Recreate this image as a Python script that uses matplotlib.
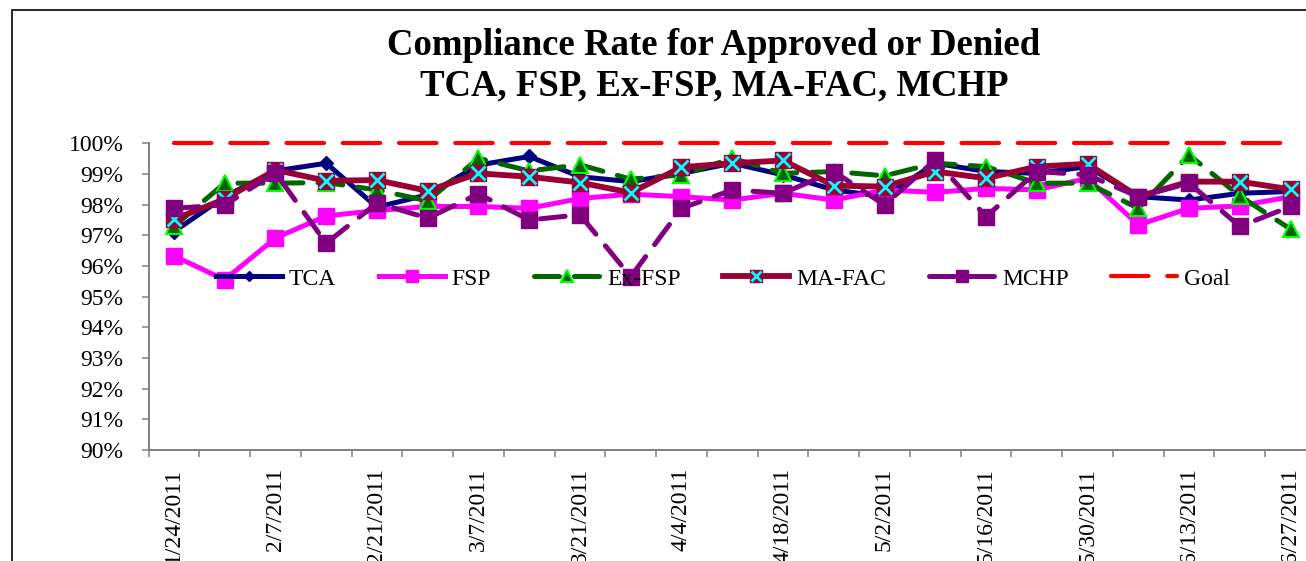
import matplotlib
matplotlib.use("Agg")
import matplotlib.pyplot as plt
import numpy as np
from matplotlib.patches import Rectangle
from matplotlib.legend_handler import HandlerTuple

plt.rcParams['font.family'] = ['Liberation Serif', 'DejaVu Serif']

# Weekly dates (x categories)
dates = ['1/24/2011', '1/31/2011', '2/7/2011', '2/14/2011', '2/21/2011', '2/28/2011',
         '3/7/2011', '3/14/2011', '3/21/2011', '3/28/2011', '4/4/2011', '4/11/2011',
         '4/18/2011', '4/25/2011', '5/2/2011', '5/9/2011', '5/16/2011', '5/23/2011',
         '5/30/2011', '6/6/2011', '6/13/2011', '6/20/2011', '6/27/2011']

# Compliance rates (%)
tca = [97.12, 98.26, 99.10, 99.35, 97.92, 98.32, 99.29, 99.57, 98.91, 98.75, 99.02, 99.35,
       98.97, 98.48, 98.26, 99.35, 99.08, 99.02, 99.24, 98.26, 98.15, 98.37, 98.43]
fsp = [96.33, 95.55, 96.91, 97.63, 97.81, 97.94, 97.94, 97.88, 98.20, 98.34, 98.26, 98.15,
       98.37, 98.15, 98.48, 98.40, 98.53, 98.48, 98.86, 97.34, 97.88, 97.96, 98.26]
ex_fsp = [97.29, 98.70, 98.70, 98.72, 98.48, 98.12, 99.51, 99.10, 99.30, 98.83, 98.97, 99.51,
          99.02, 99.08, 98.94, 99.35, 99.24, 98.70, 98.70, 97.88, 99.62, 98.28, 97.20]
ma_fac = [97.52, 98.18, 99.13, 98.78, 98.80, 98.45, 99.02, 98.91, 98.72, 98.39, 99.22, 99.35,
          99.44, 98.62, 98.59, 99.08, 98.86, 99.24, 99.33, 98.26, 98.75, 98.75, 98.50]
mchp = [97.88, 97.99, 99.04, 96.74, 98.05, 97.56, 98.35, 97.50, 97.67, 95.65, 97.88, 98.48,
        98.37, 99.08, 97.99, 99.46, 97.61, 99.08, 98.97, 98.26, 98.70, 97.29, 97.94]
goal = [100.0] * len(dates)

x = np.arange(len(dates))

fig = plt.figure(figsize=(13.06, 5.61), dpi=100)
ax = fig.add_axes([148.5 / 1306, (561 - 450) / 561, 1167.5 / 1306, 306.7 / 561])

lw = 3.6
h_tca, = ax.plot(x, tca, color='#000080', lw=lw, marker='D', ms=7,
                 mfc='#000080', mec='#000080', zorder=3)
h_fsp, = ax.plot(x, fsp, color='#FF00FF', lw=lw, marker='s', ms=11,
                 mfc='#FF00FF', mec='#FF00FF', zorder=4)
h_ex, = ax.plot(x, ex_fsp, color='#006600', lw=lw, ls=(0, (5, 3)), dash_capstyle='round',
                marker='^', ms=11, mfc='#006600', mec='#00FF00', mew=1.5, zorder=5)
h_ma, = ax.plot(x, ma_fac, color='#990033', lw=4.2, marker='s', ms=11,
                mfc='#990033', mec='#990033', zorder=6)
h_max, = ax.plot(x, ma_fac, ls='none', marker='x', ms=10, mew=2,
                 mec='#00FFFF', zorder=6.5)
h_mchp, = ax.plot(x, mchp, color='#800080', lw=lw, ls=(0, (5, 3)), dash_capstyle='round',
                  marker='s', ms=11, mfc='#800080', mec='#800080', zorder=7)
h_goal, = ax.plot(x, goal, color='#FF0000', lw=3, ls=(0, (9, 4.5)), dash_capstyle='round',
                  zorder=8, clip_on=False)

ax.set_xlim(-0.5, len(dates) - 0.5)
ax.set_ylim(90, 100)
ax.set_yticks(np.arange(90, 101, 1))
ax.set_yticklabels(['%d%%' % v for v in range(90, 101)])

ax.set_xticks(x[::2])
ax.set_xticklabels(dates[::2], rotation=90)
ax.set_xticks(np.arange(-0.5, len(dates), 1), minor=True)
ax.tick_params(axis='x', which='major', length=0, pad=13, labelsize=17)
ax.tick_params(axis='x', which='minor', length=5, width=1.1, color='#808080', direction='out')
ax.tick_params(axis='y', length=5, width=1.1, color='#808080', direction='out',
               pad=13, labelsize=17)

for side in ['top', 'right']:
    ax.spines[side].set_visible(False)
for side in ['left', 'bottom']:
    ax.spines[side].set_color('#808080')
    ax.spines[side].set_linewidth(1.4)

fig.text(714 / 1306, 1 - 55 / 561, 'Compliance Rate for Approved or Denied',
         ha='center', va='baseline', fontsize=26.5, fontweight='bold')
fig.text(714 / 1306, 1 - 95 / 561, 'TCA, FSP, Ex-FSP, MA-FAC, MCHP',
         ha='center', va='baseline', fontsize=26.5, fontweight='bold')

# Legend sits over the plot without a background, as in the original
leg = fig.legend([h_tca, h_fsp, h_ex, (h_ma, h_max), h_mchp, h_goal],
                 ['TCA', 'FSP', 'Ex-FSP', 'MA-FAC', 'MCHP', 'Goal'],
                 handler_map={tuple: HandlerTuple(ndivide=1, pad=0)},
                 loc='center', bbox_to_anchor=(723 / 1306, 1 - 279 / 561),
                 ncol=6, frameon=False, fontsize=17, handlelength=2.8,
                 handletextpad=0.3, columnspacing=1.8, markerscale=0.75)

# chart area border
fig.patches.append(Rectangle((12 / 1306, -0.05), 1.2, 1.05 - 10 / 561,
                             transform=fig.transFigure, fill=False,
                             edgecolor='black', lw=1.2))

fig.savefig('out.png', dpi=100)
